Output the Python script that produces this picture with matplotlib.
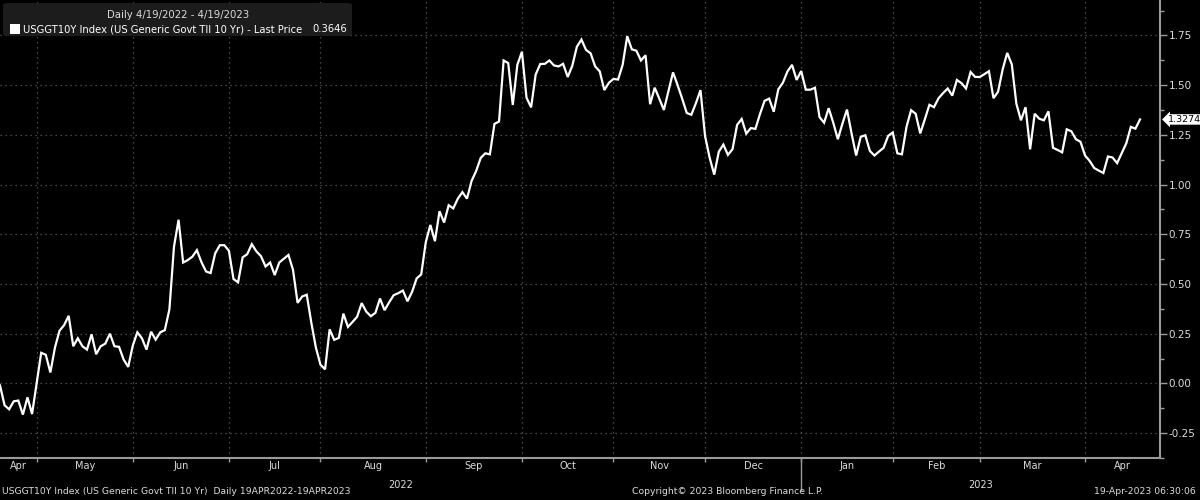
import numpy as np
import pandas as pd
import matplotlib.pyplot as plt
from matplotlib.patches import FancyBboxPatch, Rectangle
from matplotlib.transforms import blended_transform_factory
from pandas.tseries.holiday import USFederalHolidayCalendar

yields = [
    -0.01, -0.11, -0.13, -0.09, -0.086, -0.157, -0.07, -0.154, 0.0, 0.154,
    0.144, 0.055, 0.18, 0.265, 0.293, 0.34, 0.187, 0.227, 0.187, 0.17,
    0.247, 0.147, 0.187, 0.2, 0.25, 0.187, 0.184, 0.12, 0.083, 0.19,
    0.257, 0.227, 0.17, 0.26, 0.22, 0.257, 0.268, 0.372, 0.687, 0.823,
    0.608, 0.62, 0.637, 0.67, 0.61, 0.563, 0.555, 0.654, 0.695, 0.695,
    0.667, 0.525, 0.508, 0.634, 0.65, 0.7, 0.664, 0.64, 0.588, 0.608,
    0.545, 0.608, 0.627, 0.646, 0.571, 0.405, 0.437, 0.446, 0.305, 0.18,
    0.094, 0.071, 0.272, 0.219, 0.229, 0.351, 0.284, 0.309, 0.335, 0.404,
    0.361, 0.338, 0.355, 0.427, 0.368, 0.408, 0.444, 0.454, 0.467, 0.413,
    0.46, 0.528, 0.548, 0.71, 0.797, 0.715, 0.866, 0.809, 0.896, 0.88,
    0.929, 0.962, 0.929, 1.018, 1.068, 1.134, 1.157, 1.152, 1.305, 1.317,
    1.624, 1.611, 1.4, 1.602, 1.668, 1.437, 1.388, 1.553, 1.606, 1.607,
    1.624, 1.599, 1.594, 1.607, 1.541, 1.597, 1.693, 1.729, 1.677, 1.66,
    1.594, 1.569, 1.475, 1.512, 1.531, 1.528, 1.602, 1.746, 1.68, 1.673,
    1.624, 1.65, 1.404, 1.487, 1.432, 1.375, 1.47, 1.564, 1.5, 1.432,
    1.36, 1.351, 1.409, 1.475, 1.244, 1.135, 1.05, 1.165, 1.201, 1.149,
    1.178, 1.3, 1.33, 1.256, 1.284, 1.28, 1.355, 1.421, 1.432, 1.366,
    1.479, 1.512, 1.569, 1.602, 1.526, 1.571, 1.477, 1.477, 1.487, 1.339,
    1.311, 1.384, 1.311, 1.228, 1.306, 1.377, 1.257, 1.146, 1.24, 1.248,
    1.169, 1.146, 1.166, 1.185, 1.245, 1.262, 1.157, 1.152, 1.29, 1.374,
    1.356, 1.257, 1.328, 1.401, 1.389, 1.434, 1.46, 1.483, 1.447, 1.526,
    1.51, 1.483, 1.566, 1.541, 1.541, 1.555, 1.57, 1.434, 1.467, 1.579,
    1.662, 1.604, 1.406, 1.323, 1.389, 1.177, 1.356, 1.331, 1.323, 1.368,
    1.185, 1.174, 1.162, 1.278, 1.268, 1.228, 1.215, 1.146, 1.119, 1.083,
    1.07, 1.058, 1.141, 1.136, 1.108, 1.157, 1.207, 1.29, 1.281, 1.3274,
]
ticker = "USGGT10Y Index (US Generic Govt TII 10 Yr)"
legend_price = "0.3646"
period_label = "Daily 4/19/2022 - 4/19/2023"
footer_period = "Daily 19APR2022-19APR2023"
stamp = "19-Apr-2023 06:30:06"

hol = USFederalHolidayCalendar().holidays("2022-04-01", "2023-05-01")
dates = pd.bdate_range("2022-04-19", "2023-04-30", freq="C", holidays=hol)
dates = dates[:len(yields)]
x = np.arange(len(yields))

BG = "black"
GRID = "#5c5c5c"
AXC = "#9a9a9a"
TXT = "#dcdcdc"
FS = 7

fig = plt.figure(figsize=(12, 5), dpi=100, facecolor=BG)
ax = fig.add_axes([0, 42 / 500, 1160 / 1200, 458 / 500], facecolor=BG)

ax.plot(x, yields, color="white", lw=1.6, solid_joinstyle="miter", zorder=3)
xmax = 1160 / 1140 * (len(yields) - 1)
ax.set_xlim(0, xmax)
ax.set_ylim(-0.346, 1.928)

# month boundaries (last trading day of previous month)
mon = np.asarray(dates.month)
first = np.where(mon[1:] != mon[:-1])[0] + 1
bounds = first - 1
ax.set_xticks(bounds)
ax.set_xticklabels([])
ax.tick_params(axis="x", colors=AXC, length=3, width=1, direction="out")

trans = blended_transform_factory(ax.transData, ax.transAxes)
edges = np.concatenate([[0], bounds, [xmax]])
names = [dates[0].strftime("%b")] + [dates[i].strftime("%b") for i in first]
for a, b, n in zip(edges[:-1], edges[1:], names):
    ax.text((a + b) / 2, -0.018, n, transform=trans, ha="center", va="center",
            color=TXT, fontsize=FS, clip_on=False)

# year labels and separator
yr = np.asarray(dates.year)
ysplit = bounds[np.where(yr[first] != yr[first - 1])[0][0]]
ax.plot([ysplit, ysplit], [0, -0.07], transform=trans, color=AXC, lw=1,
        clip_on=False)
ax.text(ysplit / 2, -0.058, str(yr[0]), transform=trans, ha="center",
        va="center", color=TXT, fontsize=FS, clip_on=False)
ax.text((ysplit + xmax) / 2, -0.058, str(yr[-1]), transform=trans, ha="center",
        va="center", color=TXT, fontsize=FS, clip_on=False)

# y axis on the right
ax.yaxis.tick_right()
ax.set_yticks(np.arange(-0.25, 1.8, 0.25))
ax.set_yticks(np.arange(-0.375, 1.9, 0.125), minor=True)
ax.set_yticklabels([f"{v:.2f}" for v in np.arange(-0.25, 1.8, 0.25)])
ax.tick_params(axis="y", which="major", colors=AXC, labelcolor=TXT,
               labelsize=FS + 0.5, length=5, width=1, pad=1)
ax.tick_params(axis="y", which="minor", colors=AXC, length=3, width=1)

ax.grid(True, which="major", color=GRID, linestyle=(0, (1, 3)), lw=0.9)
for s in ["top", "left"]:
    ax.spines[s].set_visible(False)
for s in ["right", "bottom"]:
    ax.spines[s].set_color(AXC)
    ax.spines[s].set_linewidth(1.5)

# last price tag
tr_y = blended_transform_factory(ax.transAxes, ax.transData)
ax.text(1.0065, yields[-1], f"{yields[-1]:.4f}", transform=tr_y, ha="left",
        va="center", color="black", fontsize=FS - 0.2, clip_on=False,
        bbox=dict(boxstyle="larrow,pad=0.08", fc="white", ec="none"))

# legend box
fig.patches.append(FancyBboxPatch((3 / 1200, 1 - 36 / 500), 349 / 1200, 33 / 500,
                                  boxstyle="round,pad=0,rounding_size=0.004",
                                  transform=fig.transFigure, fc="#1c1c1c",
                                  ec="none", zorder=5))
fig.text(178 / 1200, 1 - 15 / 500, period_label,
         ha="center", va="center", color=TXT, fontsize=FS + 0.3, zorder=6)
fig.patches.append(Rectangle((10 / 1200, 1 - 34 / 500), 10 / 1200, 10 / 500,
                             transform=fig.transFigure, fc="white", ec="none",
                             zorder=6))
fig.text(23 / 1200, 1 - 29 / 500, ticker + " - Last Price", ha="left",
         va="center", color="white", fontsize=FS + 0.2, zorder=6)
fig.text(347 / 1200, 1 - 29 / 500, legend_price, ha="right", va="center",
         color="white", fontsize=FS + 0.2, zorder=6)

# footer
fig.text(2 / 1200, 8 / 500, f"{ticker}  {footer_period}",
         ha="left", va="center", color=TXT, fontsize=FS - 0.3)
fig.text(632 / 1200, 8 / 500, "Copyright\u00a9 2023 Bloomberg Finance L.P.",
         ha="left", va="center", color=TXT, fontsize=FS - 0.3)
fig.text(1196 / 1200, 8 / 500, stamp, ha="right",
         va="center", color=TXT, fontsize=FS - 0.3)

fig.savefig("out.png", dpi=100, facecolor=BG)
